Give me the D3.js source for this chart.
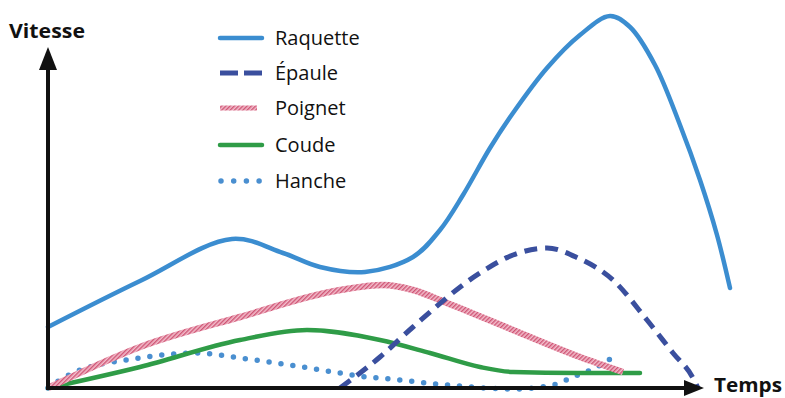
<!DOCTYPE html>
<html><head><meta charset="utf-8">
<script src="https://cdn.jsdelivr.net/npm/d3@7"></script>
<style>html,body{margin:0;padding:0;background:#fff;}svg{display:block;}</style>
</head><body>
<script>
// Data: x = time units, y = speed units
const seriesNames = ["Raquette", "Épaule", "Poignet", "Coude", "Hanche"];
const raquette = [[0,61],[92,107],[184,149],[235,135],[272,121],[317,116],[365,131],[392,158],[415,193],[442,240],[465,275],[499,320],[532,353],[562,372],[582,361],[607,323],[632,263],[652,208],[669,153],[682,100]];
const epaule = [[292,0],[332,31],[365,61],[432,115],[465,133],[499,140],[530,130],[565,108],[599,68],[625,35],[645,10],[650,0]];
const poignet = [[0,0],[92,41],[192,71],[292,98],[335,103],[365,98],[399,85],[465,58],[532,31],[575,16]];
const coude = [[0,0],[92,21],[192,48],[259,58],[332,48],[382,35],[432,21],[465,16],[530,15],[592,15]];
const hanche = [[0,0],[25,15],[92,30],[147,35],[192,30],[242,23],[292,15],[319,11],[332,10],[399,3],[465,-1],[505,3],[525,11],[549,21],[562,29]];
const xMax = 655, yMax = 370;

const W = 785, H = 398;
const svg = d3.select("body").append("svg").attr("width", W).attr("height", H);
const x = d3.scaleLinear().domain([0, xMax]).range([48, 703]);
const y = d3.scaleLinear().domain([0, yMax]).range([388, 18]);

const defs = svg.append("defs");
const pat = defs.append("pattern").attr("id","hatch").attr("patternUnits","userSpaceOnUse")
  .attr("width",3).attr("height",3).attr("patternTransform","rotate(45)");
pat.append("rect").attr("width",3).attr("height",3).attr("fill","#f2bccb");
pat.append("rect").attr("width",1.4).attr("height",3).attr("fill","#cf5575");

const lineSmooth = d3.line().x(d=>x(d[0])).y(d=>y(d[1])).curve(d3.curveCatmullRom.alpha(0.5));
const lineMono = d3.line().x(d=>x(d[0])).y(d=>y(d[1])).curve(d3.curveMonotoneX);

const styles = {
  "Raquette": {stroke:"#3b8dd0", width:4.5, dash:null, cap:"round"},
  "Épaule": {stroke:"#3a4f9e", width:5, dash:"13 8", cap:"butt"},
  "Poignet": {stroke:"url(#hatch)", width:6.5, dash:null, cap:"butt"},
  "Coude": {stroke:"#2f9c47", width:4.5, dash:null, cap:"round"},
  "Hanche": {stroke:"#4a8fd0", width:5.5, dash:"0 12", cap:"round"}
};
const dataMap = {"Raquette":raquette, "Épaule":epaule, "Poignet":poignet, "Coude":coude, "Hanche":hanche};

// draw order
["Hanche","Coude","Poignet","Épaule","Raquette"].forEach(n=>{
  const s = styles[n];
  const gen = n === "Raquette" ? lineSmooth : lineMono;
  svg.append("path").datum(dataMap[n]).attr("d", gen)
    .attr("fill","none").attr("stroke", s.stroke).attr("stroke-width", s.width)
    .attr("stroke-dasharray", s.dash).attr("stroke-linecap", s.cap).attr("stroke-linejoin","round");
});

// Axes
const x0 = x(0), y0 = y(0);
svg.append("line").attr("x1",x0).attr("y1",y0+2).attr("x2",x0).attr("y2",68).attr("stroke","#111").attr("stroke-width",4);
svg.append("path").attr("d",`M${x0-9},70 L${x0},47 L${x0+9},70 Z`).attr("fill","#111");
svg.append("line").attr("x1",x0-2).attr("y1",y0).attr("x2",686).attr("y2",y0).attr("stroke","#111").attr("stroke-width",4);
svg.append("path").attr("d",`M684,${y0-8} L704,${y0} L684,${y0+8} Z`).attr("fill","#111");

svg.append("text").attr("x",9).attr("y",38).text("Vitesse")
  .attr("font-family","'Open Sans', sans-serif").attr("font-weight","bold").attr("font-size",20).attr("fill","#111")
  .attr("textLength",76).attr("lengthAdjust","spacingAndGlyphs");
svg.append("text").attr("x",714).attr("y",392).text("Temps")
  .attr("font-family","'Open Sans', sans-serif").attr("font-weight","bold").attr("font-size",19).attr("fill","#111")
  .attr("textLength",68).attr("lengthAdjust","spacingAndGlyphs");

// Legend
const ly = [38, 73, 108, 145, 181];
seriesNames.forEach((n,i)=>{
  const s = styles[n];
  const g = svg.append("g");
  if (n === "Hanche") {
    g.append("line").attr("x1",221).attr("x2",260).attr("y1",ly[i]).attr("y2",ly[i])
      .attr("stroke",s.stroke).attr("stroke-width",5.5).attr("stroke-dasharray","0 12.7").attr("stroke-linecap","round");
  } else if (n === "Épaule") {
    g.append("line").attr("x1",220).attr("x2",262).attr("y1",ly[i]).attr("y2",ly[i])
      .attr("stroke",s.stroke).attr("stroke-width",5).attr("stroke-dasharray","18 6").attr("stroke-linecap","butt");
  } else if (n === "Poignet") {
    g.append("line").attr("x1",220).attr("x2",257).attr("y1",ly[i]).attr("y2",ly[i])
      .attr("stroke",s.stroke).attr("stroke-width",5);
  } else {
    g.append("line").attr("x1",220).attr("x2",262).attr("y1",ly[i]).attr("y2",ly[i])
      .attr("stroke",s.stroke).attr("stroke-width",4.5).attr("stroke-linecap","round");
  }
  g.append("text").attr("x",275).attr("y",ly[i]+7).text(n)
    .attr("font-family","'Open Sans', sans-serif").attr("font-size",20).attr("fill","#111");
});
</script>
</body></html>
